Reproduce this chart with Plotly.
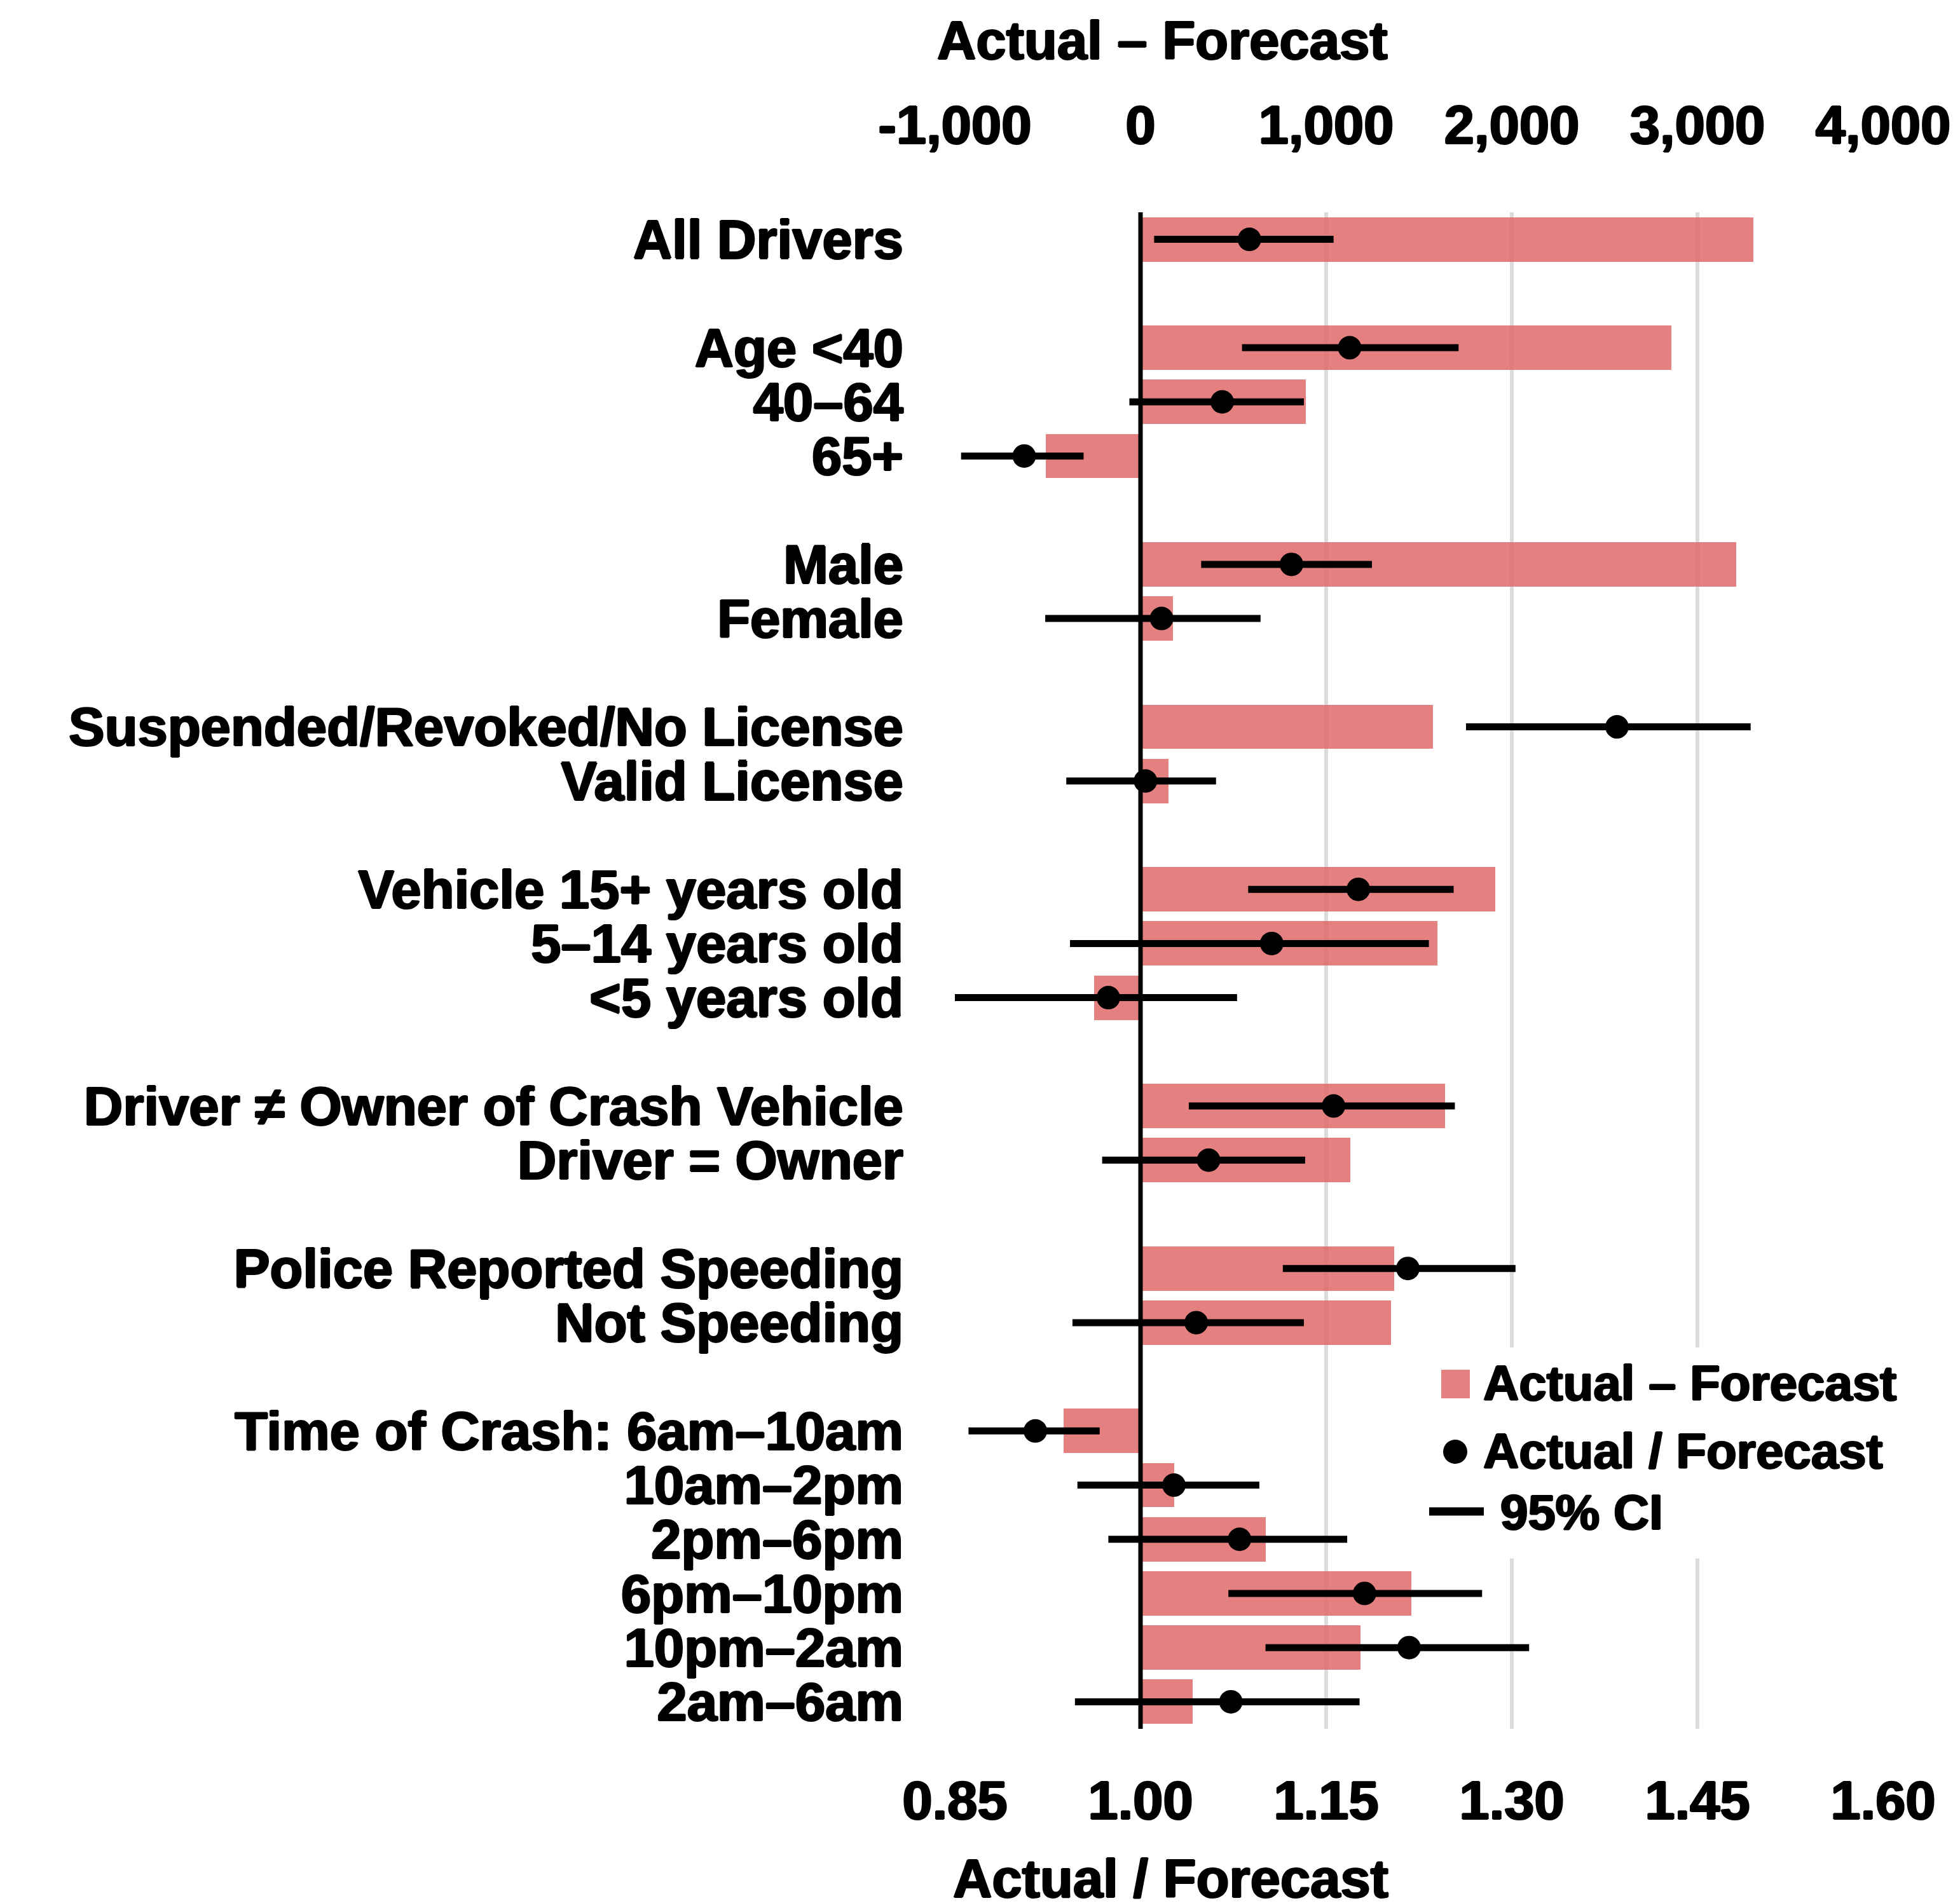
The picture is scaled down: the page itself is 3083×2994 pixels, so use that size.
import plotly.graph_objects as go

# ---- data -------------------------------------------------------------
groups = [
    ["All Drivers"],
    ["Age <40", "40–64", "65+"],
    ["Male", "Female"],
    ["Suspended/Revoked/No License", "Valid License"],
    ["Vehicle 15+ years old", "5–14 years old", "<5 years old"],
    ["Driver ≠ Owner of Crash Vehicle", "Driver = Owner"],
    ["Police Reported Speeding", "Not Speeding"],
    ["Time of Crash: 6am–10am", "10am–2pm", "2pm–6pm", "6pm–10pm",
     "10pm–2am", "2am–6am"],
]

# Actual - Forecast (crash counts)
diff = [3300, 2860, 890, -510, 3210, 175, 1575, 150, 1910, 1600, -250,
        1640, 1130, 1365, 1350, -415, 180, 675, 1460, 1185, 280]

# Actual / Forecast with 95% confidence interval
ratio = [1.088, 1.169, 1.066, 0.906, 1.122, 1.017, 1.385, 1.004, 1.176,
         1.106, 0.974, 1.156, 1.055, 1.216, 1.045, 0.915, 1.027, 1.080,
         1.181, 1.217, 1.073]
ci_low = [1.011, 1.082, 0.991, 0.855, 1.049, 0.923, 1.263, 0.940, 1.087,
          0.943, 0.850, 1.039, 0.969, 1.115, 0.945, 0.861, 0.949, 0.974,
          1.071, 1.101, 0.947]
ci_high = [1.156, 1.257, 1.132, 0.954, 1.187, 1.097, 1.493, 1.061, 1.253,
           1.233, 1.078, 1.254, 1.133, 1.303, 1.132, 0.967, 1.096, 1.167,
           1.276, 1.314, 1.177]

diff_ticks = [-1000, 0, 1000, 2000, 3000, 4000]
diff_ticktext = ["-1,000", "0", "1,000", "2,000", "3,000", "4,000"]
ratio_ticks = [0.85, 1.00, 1.15, 1.30, 1.45, 1.60]
ratio_ticktext = ["0.85", "1.00", "1.15", "1.30", "1.45", "1.60"]

# ---- row layout: one blank row between groups ---------------------------
labels, rows = [], []
pos = 0
for group in groups:
    for name in group:
        labels.append(name)
        rows.append(pos)
        pos += 1
    pos += 1
n_rows = rows[-1] + 1

# ---- styling ----------------------------------------------------------
W, H = 3083, 2994
PLOT_L, PLOT_R, PLOT_T, PLOT_B = 1502, 2962, 334, 2720
FONT = "Liberation Sans, Arial, Helvetica, sans-serif"
BAR_COLOR = "rgb(224,106,106)"
# a thin text-shadow outline gives the labels an extra-heavy weight
HEAVY = ("1.4px 0 0 black, -1.4px 0 0 black, 0 1.2px 0 black, "
         "0 -1.2px 0 black")
tick_font = dict(family=FONT, size=85, color="black", weight="bold",
                 shadow=HEAVY)
title_font = dict(family=FONT, size=85, color="black", weight="bold",
                  shadow=HEAVY)
legend_font = dict(family=FONT, size=78, color="black", weight="bold",
                   shadow=HEAVY)


def px(x):
    return (x - PLOT_L) / (PLOT_R - PLOT_L)


def py(y):
    return (PLOT_B - y) / (PLOT_B - PLOT_T)


fig = go.Figure()

fig.add_trace(go.Bar(
    x=diff, y=rows, orientation="h", xaxis="x", yaxis="y",
    width=0.82, opacity=0.85,
    marker=dict(color=BAR_COLOR, line=dict(width=0)),
    name="Actual – Forecast", showlegend=False,
))

fig.add_trace(go.Scatter(
    x=ratio, y=rows, xaxis="x2", yaxis="y", mode="markers",
    marker=dict(size=37, color="black", line=dict(width=0)),
    error_x=dict(
        type="data", symmetric=False,
        array=[h - r for h, r in zip(ci_high, ratio)],
        arrayminus=[r - l for r, l in zip(ratio, ci_low)],
        thickness=11, width=0, color="black",
    ),
    cliponaxis=False, name="Actual / Forecast", showlegend=False,
))

shapes = [
    # zero reference line
    dict(type="line", xref="x", yref="paper", x0=0, x1=0, y0=0, y1=1,
         line=dict(color="black", width=7), layer="above"),
    # legend background
    dict(type="rect", xref="paper", yref="paper",
         x0=px(2238), x1=px(3050), y0=py(2452), y1=py(2120),
         fillcolor="white", line=dict(width=0), layer="above"),
    # legend: bar swatch
    dict(type="rect", xref="paper", yref="paper",
         x0=px(2267), x1=px(2312), y0=py(2200), y1=py(2155),
         fillcolor=BAR_COLOR, opacity=0.85, line=dict(width=0), layer="above"),
    # legend: point
    dict(type="circle", xref="paper", yref="paper",
         x0=px(2270), x1=px(2308), y0=py(2303), y1=py(2265),
         fillcolor="black", line=dict(width=0), layer="above"),
    # legend: CI line
    dict(type="line", xref="paper", yref="paper",
         x0=px(2248), x1=px(2334), y0=py(2378), y1=py(2378),
         line=dict(color="black", width=13), layer="above"),
]

annotations = [
    dict(text="Actual – Forecast", xref="paper", yref="paper",
         x=px(1828), y=py(64), xanchor="center", yanchor="middle",
         showarrow=False, font=title_font),
    dict(text="Actual / Forecast", xref="paper", yref="paper",
         x=px(1841), y=py(2955), xanchor="center", yanchor="middle",
         showarrow=False, font=title_font),
    dict(text="Actual – Forecast", xref="paper", yref="paper",
         x=px(2331), y=py(2176), xanchor="left", yanchor="middle",
         showarrow=False, font=legend_font),
    dict(text="Actual / Forecast", xref="paper", yref="paper",
         x=px(2331), y=py(2283), xanchor="left", yanchor="middle",
         showarrow=False, font=legend_font),
    dict(text="95% CI", xref="paper", yref="paper",
         x=px(2358), y=py(2379), xanchor="left", yanchor="middle",
         showarrow=False, font=legend_font),
]

fig.update_layout(
    width=W, height=H,
    margin=dict(l=PLOT_L, r=W - PLOT_R, t=PLOT_T, b=H - PLOT_B, pad=0),
    paper_bgcolor="white", plot_bgcolor="white",
    showlegend=False, bargap=0,
    xaxis=dict(
        range=[-1000, 4000], side="top", anchor="y",
        tickvals=diff_ticks, ticktext=diff_ticktext, tickfont=tick_font,
        showgrid=True, gridcolor="#dcdcdc", gridwidth=6,
        zeroline=False, showline=False, ticks="", ticklabelstandoff=90,
        automargin=False,
    ),
    xaxis2=dict(
        range=[0.85, 1.60], side="bottom", overlaying="x", anchor="y",
        tickvals=ratio_ticks, ticktext=ratio_ticktext, tickfont=tick_font,
        showgrid=False, zeroline=False, showline=False, ticks="",
        ticklabelstandoff=56, automargin=False,
    ),
    yaxis=dict(
        range=[n_rows - 0.5, -0.5],
        tickvals=rows, ticktext=labels, tickfont=tick_font,
        showgrid=False, zeroline=False, showline=False, ticks="",
        ticklabelstandoff=80, automargin=False,
    ),
    shapes=shapes,
    annotations=annotations,
)

fig.write_html("out.html")
